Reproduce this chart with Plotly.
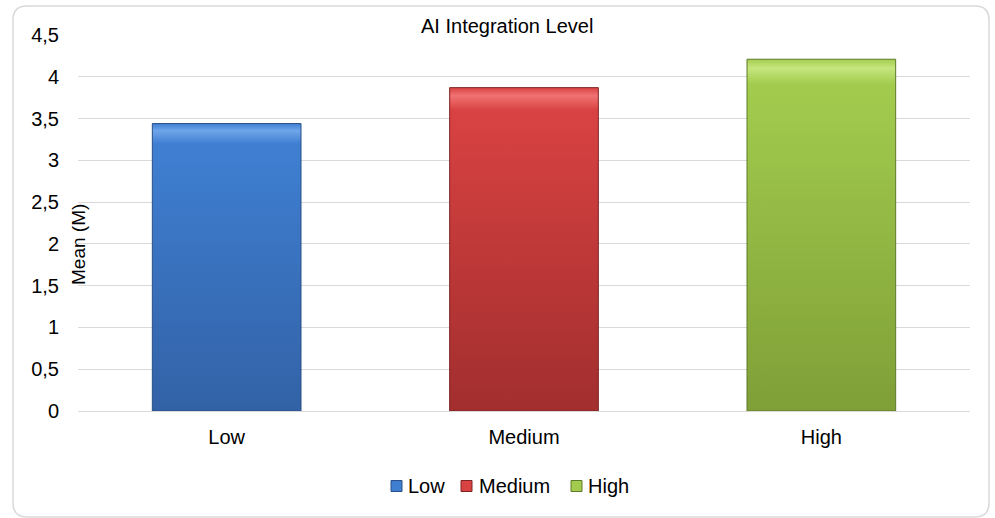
import plotly.graph_objects as go

# Mean score per AI integration level
categories = ["Low", "Medium", "High"]
means = [3.44, 3.87, 4.21]

# Fill colours per bar: (bottom, middle, top highlight)
bar_colors = {
    "Low": ("#3262a6", "#3f7fd2", "#6fa6ea"),
    "Medium": ("#a22e2e", "#d94242", "#f07272"),
    "High": ("#7f9f37", "#a3cc4e", "#c6e67e"),
}
edge_colors = {"Low": "#2a4f85", "Medium": "#7f2424", "High": "#5f7a2a"}

BAR_WIDTH = 0.5
FONT = "Liberation Sans, Arial, sans-serif"

# plot-area geometry in pixels, used to place frame / legend in paper units
PLOT_L, PLOT_R, PLOT_T, PLOT_B = 78, 970, 35, 411


def px(xp):
    return (xp - PLOT_L) / (PLOT_R - PLOT_L)


def py(yp):
    return (PLOT_B - yp) / (PLOT_B - PLOT_T)


fig = go.Figure()

for i, (cat, val) in enumerate(zip(categories, means)):
    bottom, mid, top = bar_colors[cat]
    x0, x1 = i - BAR_WIDTH / 2, i + BAR_WIDTH / 2
    # gradient-filled bar body
    fig.add_trace(go.Scatter(
        x=[x0, x1, x1, x0, x0],
        y=[0, 0, val, val, 0],
        mode="lines",
        fill="toself",
        fillgradient=dict(
            type="vertical",
            colorscale=[[0, bottom], [0.93, mid], [0.975, top], [1, mid]],
        ),
        line=dict(color=edge_colors[cat], width=1),
        showlegend=False,
        hoverinfo="skip",
        name=cat,
    ))

# rounded outer frame
left, right = px(13), px(989)
top_, bot = py(6), py(517)
rx, ry = 14 / (PLOT_R - PLOT_L), 14 / (PLOT_B - PLOT_T)
frame = (
    f"M {left + rx},{top_} L {right - rx},{top_} Q {right},{top_} {right},{top_ - ry} "
    f"L {right},{bot + ry} Q {right},{bot} {right - rx},{bot} "
    f"L {left + rx},{bot} Q {left},{bot} {left},{bot + ry} "
    f"L {left},{top_ - ry} Q {left},{top_} {left + rx},{top_} Z"
)
shapes = [dict(type="path", xref="paper", yref="paper", path=frame,
               line=dict(color="#d9d9d9", width=1.5), layer="below")]

annotations = [
    dict(text="AI Integration Level", xref="paper", yref="paper",
         x=px(507), y=py(26), xanchor="center", yanchor="middle",
         showarrow=False, font=dict(size=20)),
    dict(text="Mean (M)", xref="paper", yref="paper",
         x=0, y=py(245), xanchor="center", yanchor="middle",
         textangle=-90, showarrow=False, font=dict(size=19)),
]

# compact legend below the axis: swatch + label per category
legend_swatch_left = [391, 461, 571]
legend_text_left = [406, 477, 586]
legend_y = 486
for cat, sx, tx in zip(categories, legend_swatch_left, legend_text_left):
    shapes.append(dict(
        type="rect", xref="paper", yref="paper",
        x0=px(sx), x1=px(sx + 11), y0=py(legend_y + 5.5), y1=py(legend_y - 5.5),
        fillcolor=bar_colors[cat][1], line=dict(color=edge_colors[cat], width=1),
    ))
    annotations.append(dict(
        text=cat, xref="paper", yref="paper", x=px(tx), y=py(legend_y),
        xanchor="left", yanchor="middle", showarrow=False, font=dict(size=20),
    ))

fig.update_layout(
    width=995, height=518,
    margin=dict(l=PLOT_L, r=995 - PLOT_R, t=PLOT_T, b=518 - PLOT_B),
    paper_bgcolor="white",
    plot_bgcolor="white",
    font=dict(family=FONT, size=20, color="#000000"),
    separators=",.",
    showlegend=False,
    xaxis=dict(
        range=[-0.5, 2.5],
        tickmode="array", tickvals=list(range(len(categories))), ticktext=categories,
        showgrid=False, zeroline=False, showline=False, ticks="",
        ticklabelstandoff=12, fixedrange=True,
    ),
    yaxis=dict(
        range=[0, 4.5], dtick=0.5,
        tickformat=".1~f",
        showgrid=True, gridcolor="#d9d9d9", gridwidth=1,
        zeroline=True, zerolinecolor="#d9d9d9", zerolinewidth=1,
        showline=False, ticks="", ticklabelstandoff=18, fixedrange=True,
    ),
    shapes=shapes,
    annotations=annotations,
)

fig.write_html("out.html")
